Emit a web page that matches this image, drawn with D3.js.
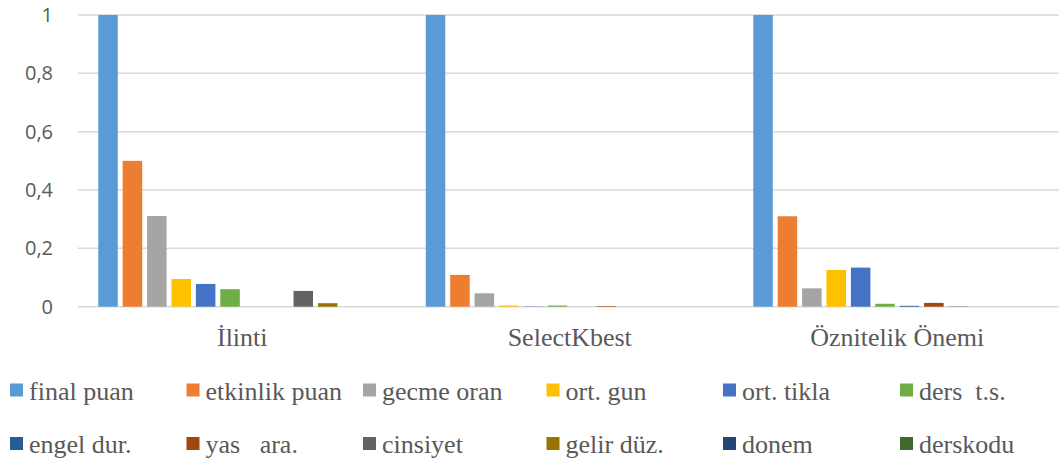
<!DOCTYPE html>
<html>
<head>
<meta charset="utf-8">
<script src="https://cdn.jsdelivr.net/npm/d3@7"></script>
<style>
  body { margin: 0; background: #fff; }
</style>
</head>
<body>
<div id="chart"></div>
<script>
// groups (x axis categories)
var groups = ["İlinti", "SelectKbest", "Öznitelik Önemi"];
// series names, in legend order
var series = ["final puan", "etkinlik puan", "gecme oran", "ort. gun", "ort. tikla", "ders  t.s.",
              "engel dur.", "yas   ara.", "cinsiyet", "gelir düz.", "donem", "derskodu"];
var colors = ["#5B9BD5", "#ED7D31", "#A5A5A5", "#FFC000", "#4472C4", "#70AD47",
              "#255E91", "#9E480E", "#636363", "#997300", "#264478", "#43682B"];
// values per group, one per series
var ilinti      = [1, 0.5, 0.311, 0.095, 0.078, 0.06, 0, 0, 0.054, 0.012, 0, 0];
var selectKbest = [1, 0.109, 0.046, 0.004, 0.001, 0.004, 0, 0.002, 0, 0, 0, 0];
var oznitelik   = [1, 0.31, 0.063, 0.126, 0.134, 0.01, 0.003, 0.013, 0.001, 0, 0, 0];
var yTicks = [0, 0.2, 0.4, 0.6, 0.8, 1];

var values = [ilinti, selectKbest, oznitelik];

var serifFont = "Liberation Serif, Times New Roman, serif";
var width = 1059, height = 461;
var svg = d3.select("#chart").append("svg")
    .attr("width", width).attr("height", height)
    .attr("font-family", serifFont);

var x0 = d3.scaleBand().domain(groups).range([78.5, 1061]).padding(0);
var x1 = d3.scaleBand().domain(series).range([0, x0.bandwidth()])
    .paddingInner(0.2).paddingOuter(0.81);
var y = d3.scaleLinear().domain([0, 1]).range([306.7, 15]);

// gridlines
svg.append("g")
    .selectAll("line")
    .data(yTicks)
    .enter()
    .append("line")
    .attr("x1", 78).attr("x2", width)
    .attr("y1", function (d) { return y(d); })
    .attr("y2", function (d) { return y(d); })
    .attr("stroke", "#d9d9d9")
    .attr("stroke-width", 1.5);

// y axis labels
var yAxis = d3.axisLeft(y).tickValues(yTicks).tickSize(0).tickPadding(0)
    .tickFormat(function (d) { return d3.format("")(d).replace(".", ","); });
var yg = svg.append("g").attr("transform", "translate(53,0)").call(yAxis);
yg.select(".domain").remove();
yg.attr("font-family", "Open Sans, sans-serif").attr("font-size", 20);
yg.selectAll("text").attr("fill", "#595959");

// bars
var gGroups = svg.append("g")
    .selectAll("g")
    .data(groups)
    .enter()
    .append("g")
    .attr("transform", function (d) { return "translate(" + x0(d) + ",0)"; });

gGroups.selectAll("rect")
    .data(function (d, i) { return values[i].map(function (v, j) { return { s: series[j], v: v, c: colors[j] }; }); })
    .enter()
    .append("rect")
    .attr("x", function (d) { return x1(d.s); })
    .attr("y", function (d) { return y(d.v); })
    .attr("width", x1.bandwidth())
    .attr("height", function (d) { return y(0) - y(d.v); })
    .attr("fill", function (d) { return d.c; });

// x axis labels
var xAxis = d3.axisBottom(x0).tickSize(0).tickPadding(0);
var xg = svg.append("g").call(xAxis);
xg.select(".domain").remove();
xg.attr("font-family", serifFont).attr("font-size", 26);
xg.selectAll("text")
    .attr("y", 346)
    .attr("dy", 0)
    .attr("fill", "#595959");

// legend
var legendX = [10, 186.5, 363, 546.5, 723, 900];
var legend = svg.append("g")
    .attr("font-family", serifFont)
    .attr("font-size", 26)
    .selectAll("g")
    .data(series)
    .enter()
    .append("g")
    .attr("transform", function (d, i) {
        return "translate(" + legendX[i % 6] + "," + (i < 6 ? 383.5 : 437) + ")";
    });
legend.append("rect")
    .attr("width", 13).attr("height", 13)
    .attr("fill", function (d, i) { return colors[i]; });
legend.append("text")
    .attr("x", 19)
    .attr("y", 16)
    .attr("fill", "#595959")
    .text(function (d) { return d.replace(/ /g, "\u00a0"); });
</script>
</body>
</html>
